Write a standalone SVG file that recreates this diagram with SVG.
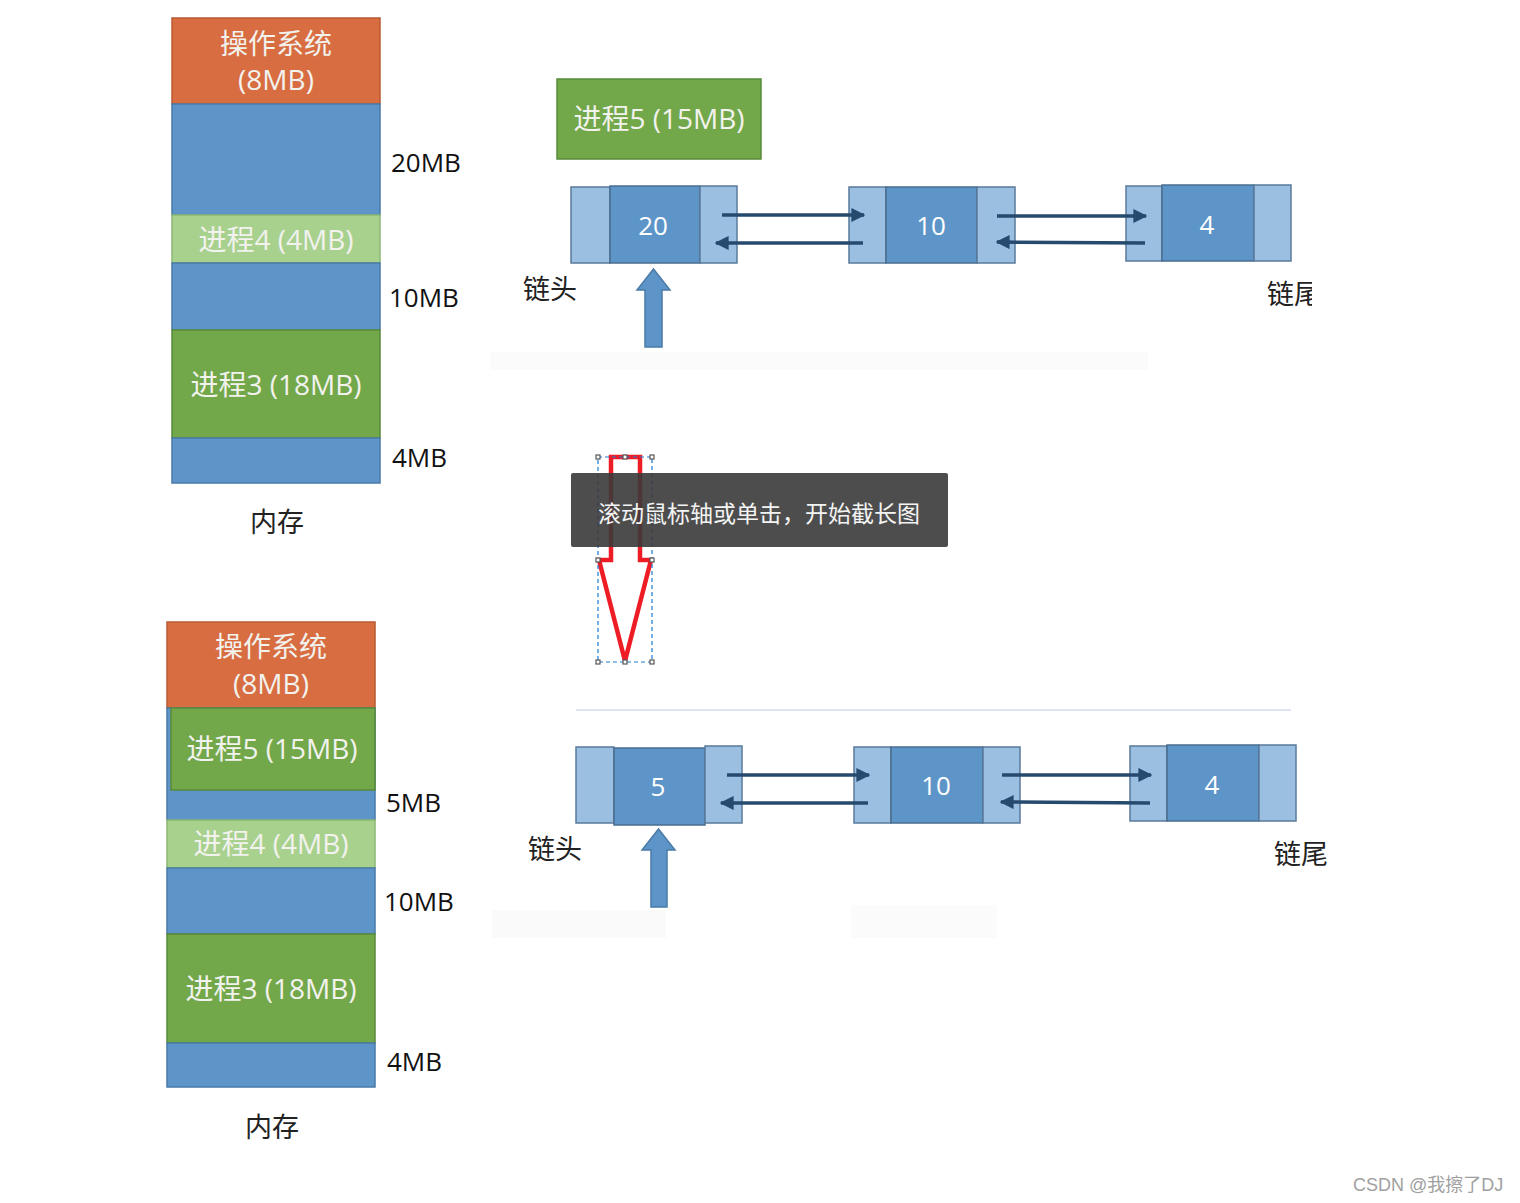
<svg xmlns="http://www.w3.org/2000/svg" width="1520" height="1203" viewBox="0 0 1520 1203">
<defs>
<style>
.os{fill:#d86d42;stroke:#b85a30;stroke-width:1.5}
.fr{fill:#5e95c8;stroke:#4a7aa8;stroke-width:1.5}
.p4{fill:#a9d18e;stroke:#8cb873;stroke-width:1.5}
.pg{fill:#72a84a;stroke:#5a8a3a;stroke-width:1.5}
.mt{font-family:"Open Sans","Noto Sans CJK SC",sans-serif;font-size:28px;fill:#f2f2ee;text-anchor:middle;dominant-baseline:central}
.lb{font-family:"Open Sans","Noto Sans CJK SC",sans-serif;font-size:26px;fill:#111;dominant-baseline:central}
.cn{font-family:"Noto Sans CJK SC",sans-serif;font-size:27px;fill:#222;text-anchor:middle;dominant-baseline:central}
.nl{fill:#9bbfe0;stroke:#5a7a9a;stroke-width:1.5}
.nm{fill:#5e95c8;stroke:#4a6e90;stroke-width:1.5}
.nt{font-family:"Open Sans",sans-serif;font-size:26px;fill:#fff;text-anchor:middle;dominant-baseline:central}
.ln{stroke:#264a6e;stroke-width:3.5;fill:none;marker-end:url(#ah)}
.up{fill:#5e95c8;stroke:#4a7aa8;stroke-width:1.5}
.hd{fill:#fff;stroke:#555;stroke-width:1.2}
</style>
<marker id="ah" viewBox="0 0 10 10" refX="9" refY="5" markerWidth="4" markerHeight="4" orient="auto" markerUnits="strokeWidth">
<path d="M0,0 L10,5 L0,10 z" fill="#264a6e"/>
</marker>
</defs>
<rect width="1520" height="1203" fill="#fff"/>

<!-- faint separator lines -->
<rect x="490" y="352" width="658" height="18" fill="#fbfbfb"/>
<line x1="576" y1="710" x2="1291" y2="710" stroke="#dde5f0" stroke-width="2"/>
<rect x="492" y="910" width="174" height="28" fill="#fafafa"/>
<rect x="851" y="905" width="146" height="33" fill="#fbfbfb"/>

<!-- top memory -->
<g id="mem-top">
<rect class="os" x="172" y="18" width="208" height="86"/>
<text class="mt" x="276" y="43">操作系统</text>
<text class="mt" x="276" y="79">(8MB)</text>
<rect class="fr" x="172" y="104" width="208" height="111"/>
<rect class="p4" x="172" y="215" width="208" height="48"/>
<text class="mt" x="276" y="239">进程4 (4MB)</text>
<rect class="fr" x="172" y="263" width="208" height="67"/>
<rect class="pg" x="172" y="330" width="208" height="108"/>
<text class="mt" x="276" y="384">进程3 (18MB)</text>
<rect class="fr" x="172" y="438" width="208" height="45"/>
<text class="cn" x="277" y="520">内存</text>
<text class="lb" x="391" y="162">20MB</text>
<text class="lb" x="389" y="297">10MB</text>
<text class="lb" x="392" y="457">4MB</text>
</g>

<!-- bottom memory -->
<g id="mem-bottom">
<rect class="os" x="167" y="622" width="208" height="86"/>
<text class="mt" x="271" y="646">操作系统</text>
<text class="mt" x="271" y="683">(8MB)</text>
<rect class="fr" x="167" y="708" width="208" height="112"/>
<rect class="pg" x="171" y="708" width="204" height="82"/>
<text class="mt" x="272" y="748">进程5 (15MB)</text>
<rect class="p4" x="167" y="820" width="208" height="48"/>
<text class="mt" x="271" y="843">进程4 (4MB)</text>
<rect class="fr" x="167" y="868" width="208" height="66"/>
<rect class="pg" x="167" y="934" width="208" height="109"/>
<text class="mt" x="271" y="988">进程3 (18MB)</text>
<rect class="fr" x="167" y="1043" width="208" height="44"/>
<text class="cn" x="272" y="1125">内存</text>
<text class="lb" x="386" y="802">5MB</text>
<text class="lb" x="384" y="901">10MB</text>
<text class="lb" x="387" y="1061">4MB</text>
</g>

<!-- process 5 block -->
<g id="p5">
<rect class="pg" x="557" y="79" width="204" height="80"/>
<text class="mt" x="659" y="118">进程5 (15MB)</text>
</g>

<!-- top list -->
<g id="t-n1">
<rect class="nl" x="571" y="187" width="39" height="76"/>
<rect class="nm" x="610" y="186" width="90" height="77"/>
<rect class="nl" x="700" y="186" width="37" height="77"/>
<text class="nt" x="653" y="225">20</text>
</g>
<g id="t-n2">
<rect class="nl" x="849" y="187" width="37" height="76"/>
<rect class="nm" x="886" y="187" width="91" height="76"/>
<rect class="nl" x="977" y="187" width="38" height="76"/>
<text class="nt" x="931" y="225">10</text>
</g>
<g id="t-n3">
<rect class="nl" x="1126" y="186" width="36" height="75"/>
<rect class="nm" x="1162" y="185" width="92" height="76"/>
<rect class="nl" x="1254" y="185" width="37" height="76"/>
<text class="nt" x="1207" y="224">4</text>
</g>
<g id="t-labels">
<text class="cn" x="550" y="287">链头</text>
<svg x="1260" y="270" width="52" height="45" overflow="hidden"><text class="cn" x="34" y="22">链尾</text></svg>
<path class="up" d="M645,347 L662,347 L662,290 L670,290 L653.5,269 L637,290 L645,290 Z"/>
</g>

<!-- bottom list -->
<g id="b-n1">
<rect class="nl" x="576" y="747" width="38" height="76"/>
<rect class="nm" x="614" y="748" width="91" height="77"/>
<rect class="nl" x="705" y="746" width="37" height="77"/>
<text class="nt" x="658" y="786">5</text>
</g>
<g id="b-n2">
<rect class="nl" x="854" y="747" width="37" height="76"/>
<rect class="nm" x="891" y="747" width="92" height="76"/>
<rect class="nl" x="983" y="747" width="37" height="76"/>
<text class="nt" x="936" y="785">10</text>
</g>
<g id="b-n3">
<rect class="nl" x="1130" y="746" width="37" height="75"/>
<rect class="nm" x="1167" y="745" width="92" height="76"/>
<rect class="nl" x="1259" y="745" width="37" height="76"/>
<text class="nt" x="1212" y="784">4</text>
</g>
<g id="b-labels">
<text class="cn" x="555" y="847">链头</text>
<text class="cn" x="1301" y="852">链尾</text>
<path class="up" d="M651,907 L667,907 L667,850 L675,850 L658.5,829 L642,850 L651,850 Z"/>
</g>

<g id="connectors">
<line class="ln" x1="722" y1="215" x2="864" y2="215"/>
<line class="ln" x1="863" y1="243" x2="716" y2="243"/>
<line class="ln" x1="997" y1="216" x2="1146" y2="216"/>
<line class="ln" x1="1145" y1="243" x2="997" y2="242"/>
<line class="ln" x1="727" y1="775" x2="869" y2="775"/>
<line class="ln" x1="868" y1="803" x2="721" y2="803"/>
<line class="ln" x1="1002" y1="775" x2="1151" y2="775"/>
<line class="ln" x1="1150" y1="803" x2="1001" y2="802"/>
</g>

<!-- screenshot overlay -->
<g id="overlay">
<path d="M611,457 L640,457 L640,560 L651,560 L625,661 L599,560 L611,560 Z" fill="none" stroke="#ee1c25" stroke-width="4.5"/>
<rect x="598" y="457" width="54" height="205" fill="none" stroke="#1a7ad4" stroke-width="1.2" stroke-dasharray="4,3"/>
<rect class="hd" x="596" y="455" width="4" height="4"/>
<rect class="hd" x="623" y="455" width="4" height="4"/>
<rect class="hd" x="650" y="455" width="4" height="4"/>
<rect class="hd" x="596" y="558" width="4" height="4"/>
<rect class="hd" x="650" y="558" width="4" height="4"/>
<rect class="hd" x="596" y="660" width="4" height="4"/>
<rect class="hd" x="623" y="660" width="4" height="4"/>
<rect class="hd" x="650" y="660" width="4" height="4"/>
<rect x="571" y="473" width="377" height="74" rx="2" fill="#3a3a3a" fill-opacity="0.9"/>
<text x="598" y="512" font-family="Noto Sans CJK SC,sans-serif" font-size="23" fill="#f4f4f4" dominant-baseline="central">滚动鼠标轴或单击，开始截长图</text>
</g>

<text x="1353" y="1185" font-family="Liberation Sans,Noto Sans CJK SC,sans-serif" font-size="18" fill="#a0a0a0" dominant-baseline="central">CSDN @我擦了DJ</text>
</svg>
